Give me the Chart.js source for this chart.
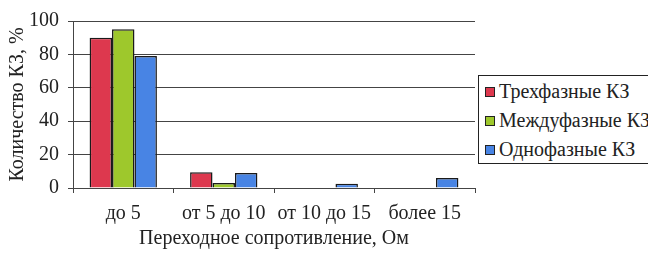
<!DOCTYPE html>
<html>
<head>
<meta charset="utf-8">
<script src="https://cdn.jsdelivr.net/npm/chart.js@4"></script>
<style>
  html, body { margin: 0; padding: 0; background: #fff; overflow: hidden; }
  #wrap { position: relative; width: 648px; height: 254px; }
  #legend {
    position: absolute; left: 478px; top: 75px; width: 190px; height: 87px;
    border: 1px solid #222; background: #fff;
    font-family: "Liberation Serif", serif; font-size: 20px; color: #222;
  }
  #legend ul { list-style: none; margin: 0; padding: 1px 0 0 6px; }
  #legend li { height: 29px; line-height: 29px; white-space: nowrap; }
  #legend li span {
    display: inline-block; width: 8px; height: 8px; border: 1px solid #222;
    margin-right: 4px; vertical-align: 1px;
  }
</style>
</head>
<body>
<div id="wrap">
  <canvas id="chart" width="648" height="254"></canvas>
  <div id="legend"></div>
</div>
<script>
var categories = ["до 5", "от 5 до 10", "от 10 до 15", "более 15"];
var threePhase = [90, 9.5, 0, 0];
var phaseToPhase = [95, 3, 0, 0];
var singlePhase = [79, 9, 2.5, 6];
var seriesNames = ["Трехфазные КЗ", "Междуфазные КЗ", "Однофазные КЗ"];
var seriesColors = ['rgb(221, 56, 78)', 'rgb(158, 200, 44)', 'rgb(72, 132, 228)'];

var serif = '"Liberation Serif", serif';

function draw() {
    var ctx = document.getElementById("chart");

    var chart = new Chart(ctx, {
        type: 'bar',
        data: {
            labels: categories,
            datasets: [
                { label: seriesNames[0], data: threePhase, backgroundColor: seriesColors[0] },
                { label: seriesNames[1], data: phaseToPhase, backgroundColor: seriesColors[1] },
                { label: seriesNames[2], data: singlePhase, backgroundColor: seriesColors[2] }
            ]
        },
        options: {
            responsive: false,
            animation: false,
            layout: { padding: { left: 0, right: 173, top: 3, bottom: 0 } },
            datasets: {
                bar: {
                    borderColor: '#1a1a1a',
                    borderWidth: 1.5,
                    categoryPercentage: 0.67,
                    barPercentage: 1
                }
            },
            plugins: {
                legend: { display: false },
                tooltip: { enabled: false }
            },
            scales: {
                x: {
                    grid: { drawOnChartArea: false, drawTicks: true, tickLength: 5, color: '#444' },
                    border: { color: '#444', width: 1 },
                    ticks: { color: '#222', font: { family: serif, size: 20 }, padding: 9, maxRotation: 0 },
                    title: {
                        display: true, text: 'Переходное сопротивление, Ом', color: '#222',
                        font: { family: serif, size: 20 }, padding: { top: 0, bottom: 3 }
                    },
                    afterFit: function(scale) { scale.height = 66; }
                },
                y: {
                    min: 0, max: 100,
                    grid: { color: '#444', tickLength: 5 },
                    border: { color: '#444', width: 1 },
                    ticks: { stepSize: 20, color: '#222', font: { family: serif, size: 20 }, padding: 9 },
                    title: {
                        display: true, text: 'Количество КЗ, %', color: '#222',
                        font: { family: serif, size: 20 }, padding: { top: 6, bottom: 0 }
                    },
                    afterFit: function(scale) { scale.width = 73; }
                }
            }
        }
    });

    // legend built from the datasets, like legendCallback used to do
    var items = [];
    items.push('<ul>');
    for (var i = 0; i < chart.data.datasets.length; i++) {
        items.push('<li><span style="background-color:' + chart.data.datasets[i].backgroundColor + '"></span>' +
            chart.data.datasets[i].label + '</li>');
    }
    items.push('</ul>');
    document.getElementById("legend").innerHTML = items.join("");
}

// canvas text needs the font loaded first
document.fonts.load('20px "Liberation Serif"', 'КЗ 100').then(draw, draw);
</script>
</body>
</html>
